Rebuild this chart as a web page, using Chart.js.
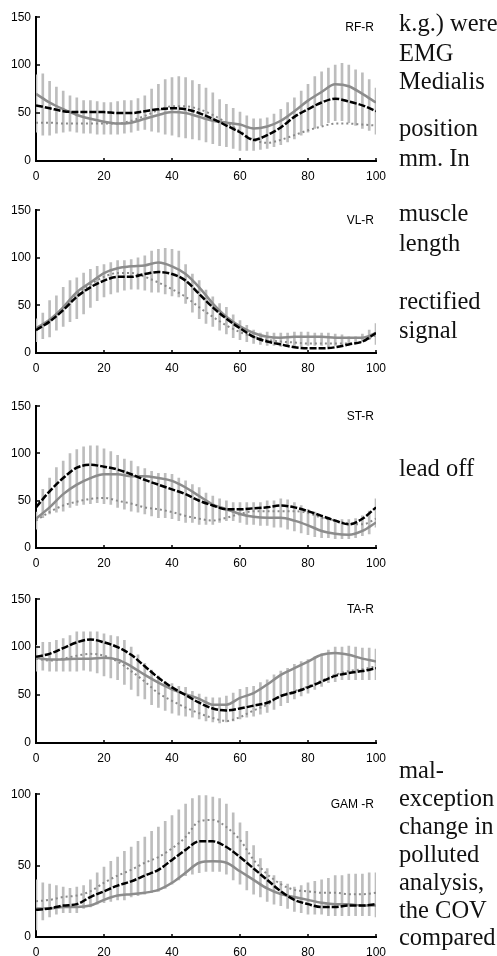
<!DOCTYPE html>
<html>
<head>
<meta charset="utf-8">
<script src="https://cdn.jsdelivr.net/npm/chart.js@4"></script>
<style>
  body { margin: 0; background: #fff; width: 497px; height: 956px; position: relative; overflow: hidden; }
  canvas { position: absolute; left: 0; }
  .txt { position: absolute; left: 399px; font-family: "Liberation Serif", "Times New Roman", serif; font-size: 24.5px; line-height: 28px; color: #111; white-space: nowrap; }
</style>
</head>
<body>
<canvas id="rf" width="400" height="181" style="top:5px"></canvas>
<canvas id="vl" width="400" height="180" style="top:198px"></canvas>
<canvas id="st" width="400" height="179" style="top:394px"></canvas>
<canvas id="ta" width="400" height="181" style="top:587px"></canvas>
<canvas id="gam" width="400" height="180" style="top:782px"></canvas>

<script>
// x positions (% of cycle)
const lineX = [0,4,8,12,16,20,24,28,32,36,40,44,48,52,56,60,64,68,72,76,80,84,88,92,96,100];
const errX = [0,2,4,6,8,10,12,14,16,18,20,22,24,26,28,30,32,34,36,38,40,42,44,46,48,50,
              52,54,56,58,60,62,64,66,68,70,72,74,76,78,80,82,84,86,88,90,92,94,96,98,100];

// RF-R
const rfBlack = [58,55,52,51,51,51,50,50,52,54,55,54,50,44,37,30,22,27,35,46,54,61,65,62,58,52];
const rfGray  = [70,61,54,48,44,41,39,40,44,48,51,50,46,42,40,38,34,36,42,52,63,72,80,78,70,61];
const rfDot   = [40,40,39,39,39,39,39,42,47,53,57,57,54,48,40,31,22,19,22,27,32,36,39,39,38,37];
const rfLo = [30,27,27,29,30,31,30,29,29,28,28,28,28,29,30,32,33,31,30,28,27,25,24,23,22,20,
              18,16,15,13,11,11,11,12,13,15,17,20,23,27,30,34,37,40,42,42,40,37,34,32,28];
const rfHi = [90,91,83,77,73,68,66,63,63,62,61,61,62,63,63,65,68,75,80,85,87,88,87,84,80,76,
              71,64,59,55,51,47,44,44,45,49,54,61,66,73,80,88,93,97,100,102,100,95,92,85,76];

// VL-R
const vlBlack = [24,33,45,59,69,76,80,80,83,85,83,76,62,48,36,26,17,12,9,6,5,5,6,9,12,21];
const vlGray  = [26,35,48,64,74,84,89,91,92,95,91,83,69,52,38,28,21,17,16,17,17,17,16,16,16,21];
const vlDot   = [25,34,48,62,72,80,84,84,80,74,67,59,48,38,29,22,17,14,12,11,10,10,10,10,12,19];
const vlLo = [12,15,17,24,28,33,36,41,48,55,59,62,64,66,67,67,66,64,64,62,60,59,52,43,36,31,
              28,24,20,16,14,12,10,9,8,8,7,7,7,7,8,8,8,7,8,9,9,10,12,14,9];
const vlHi = [36,42,55,60,69,76,79,84,88,91,93,95,97,97,98,100,102,107,109,110,109,107,93,83,76,66,
              59,52,48,40,34,29,24,21,22,21,21,21,22,22,22,21,21,21,20,19,17,17,20,24,31];

// ST-R
const stBlack = [43,60,74,85,88,86,83,78,72,67,62,57,50,45,41,41,42,43,45,43,39,34,29,25,31,43];
const stGray  = [31,43,57,67,74,78,78,76,76,74,71,64,55,46,41,36,33,32,32,29,24,18,15,14,18,27];
const stDot   = [29,38,45,49,52,53,50,47,43,41,38,34,31,29,32,36,39,39,39,39,37,32,29,26,25,31];
const stLo = [20,32,36,38,39,43,45,46,47,48,47,46,43,41,39,38,36,34,32,32,31,29,27,27,25,25,
              25,27,29,29,27,25,25,24,24,22,22,20,18,16,14,12,11,11,10,10,10,11,13,15,22];
const stHi = [38,62,74,85,92,100,104,107,108,108,105,102,98,94,92,86,84,81,79,79,78,74,71,67,64,58,
              55,52,50,48,48,48,48,48,50,50,52,51,48,45,41,38,34,32,30,30,30,31,34,39,52];

// TA-R
const taBlack = [90,93,99,105,108,105,100,92,80,68,58,50,42,36,34,36,39,42,49,53,58,64,70,73,75,78];
const taGray  = [89,87,87,88,88,89,87,80,71,63,56,51,46,40,40,47,52,61,71,78,85,92,94,92,88,85];
const taDot   = [88,86,88,91,93,91,85,75,64,52,44,37,31,26,23,27,34,40,49,54,59,65,71,75,77,80];
const taLo = [75,76,75,75,75,75,75,76,75,73,70,68,66,61,56,49,46,40,37,34,31,29,28,27,25,23,
              22,21,22,23,25,27,28,30,32,35,39,42,46,49,52,56,59,63,64,66,66,66,66,66,66];
const taHi = [102,105,105,107,109,112,116,116,116,116,114,112,111,107,100,92,83,76,70,64,62,59,58,54,51,48,
              47,47,49,52,56,58,59,63,66,71,75,78,82,85,87,90,93,97,100,100,101,100,99,99,98];

// GAM-R
const gamBlack = [19,20,22,23,28,32,36,39,43,47,54,61,67,67,63,56,48,40,32,26,23,21,21,22,22,23];
const gamGray  = [20,20,21,21,22,26,29,30,31,33,38,45,52,53,52,46,40,34,30,28,26,24,23,23,22,22];
const gamDot   = [25,26,28,29,32,38,43,47,52,56,62,70,81,82,77,68,54,44,37,33,32,31,31,30,30,31];
const gamLo = [5,12,14,16,17,17,17,20,21,23,24,25,26,26,28,29,30,31,32,34,37,40,43,44,45,46,
               46,46,44,40,37,33,30,28,25,23,22,20,18,17,16,16,16,15,15,15,15,15,15,15,14];
const gamHi = [40,38,37,36,35,34,35,36,40,45,49,53,56,60,63,67,70,74,77,81,85,89,93,97,99,99,
               98,97,93,87,80,74,64,55,48,43,39,37,35,36,38,39,40,41,43,43,44,44,44,45,45];

const sideText = [
  ['k.g.) were', 9], ['EMG', 39], ['Medialis', 67],
  ['position', 114], ['mm. In', 144],
  ['muscle', 199], ['length', 229],
  ['rectified', 287], ['signal', 316],
  ['lead off', 454],
  ['mal-', 756], ['exception', 784], ['change in', 812], ['polluted', 840],
  ['analysis,', 868], ['the COV', 896], ['compared', 923]
];

sideText.forEach(([t, top]) => {
  const d = document.createElement('div');
  d.className = 'txt';
  d.style.top = top + 'px';
  d.textContent = t;
  document.body.appendChild(d);
});

// ticks pointing into the plot + muscle name in the corner
const innerTicks = {
  id: 'innerTicks',
  afterDraw(chart, args, opts) {
    const ctx = chart.ctx;
    const area = chart.chartArea;
    const xs = chart.scales.x, ys = chart.scales.y;
    ctx.save();
    ctx.strokeStyle = '#000';
    ctx.lineWidth = 1.5;
    ctx.beginPath();
    xs.ticks.forEach(t => {
      const px = Math.round(xs.getPixelForValue(t.value));
      ctx.moveTo(px, area.bottom);
      ctx.lineTo(px, area.bottom - 3);
    });
    ys.ticks.forEach(t => {
      const py = Math.round(ys.getPixelForValue(t.value));
      ctx.moveTo(area.left, py);
      ctx.lineTo(area.left + 4, py);
    });
    ctx.stroke();
    ctx.fillStyle = '#000';
    ctx.font = '12px "Liberation Sans", Arial, sans-serif';
    ctx.textAlign = 'right';
    ctx.textBaseline = 'middle';
    ctx.fillText(opts.text, area.right - 2, area.top + 10);
    ctx.restore();
  }
};

const toPts = (xs, ys) => xs.map((x, i) => ({ x: x, y: ys[i] }));

function makePanel(id, name, yMax, black, gray, dot, lo, hi) {
  const ctx = document.getElementById(id).getContext('2d');
  const tickFont = { family: '"Liberation Sans", Arial, sans-serif', size: 12 };
  return new Chart(ctx, {
    type: 'line',
    data: {
      datasets: [
        {
          type: 'bar',
          data: errX.map((x, i) => ({ x: x, y: [lo[i], hi[i]] })),
          backgroundColor: '#bdbdbd',
          borderWidth: 0,
          barThickness: 2,
          order: 10
        },
        {
          data: toPts(lineX, dot),
          borderColor: '#8a8a8a',
          borderWidth: 2,
          borderDash: [2, 3],
          pointRadius: 0,
          cubicInterpolationMode: 'monotone',
          order: 3
        },
        {
          data: toPts(lineX, gray),
          borderColor: '#8c8c8c',
          borderWidth: 2.5,
          pointRadius: 0,
          cubicInterpolationMode: 'monotone',
          order: 2
        },
        {
          data: toPts(lineX, black),
          borderColor: '#000',
          borderWidth: 2.5,
          borderDash: [7, 2],
          pointRadius: 0,
          cubicInterpolationMode: 'monotone',
          order: 1
        }
      ]
    },
    options: {
      responsive: false,
      animation: false,
      layout: { padding: { top: 10, right: 24, left: 0, bottom: 0 } },
      plugins: {
        legend: { display: false },
        tooltip: { enabled: false },
        innerTicks: { text: name }
      },
      scales: {
        x: {
          type: 'linear',
          min: 0, max: 100,
          offset: false,
          grid: { display: false, drawTicks: false },
          border: { display: true, color: '#000', width: 2 },
          ticks: { stepSize: 20, color: '#000', font: tickFont, padding: 8, maxRotation: 0 },
          afterFit: s => { s.height = 25; }
        },
        y: {
          min: 0, max: yMax,
          grid: { display: false, drawTicks: false },
          border: { display: true, color: '#000', width: 2 },
          ticks: { stepSize: 50, color: '#000', font: tickFont, padding: 5 },
          afterFit: s => { s.width = 36; }
        }
      }
    },
    plugins: [innerTicks]
  });
}

makePanel('rf', 'RF-R', 150, rfBlack, rfGray, rfDot, rfLo, rfHi);
makePanel('vl', 'VL-R', 150, vlBlack, vlGray, vlDot, vlLo, vlHi);
makePanel('st', 'ST-R', 150, stBlack, stGray, stDot, stLo, stHi);
makePanel('ta', 'TA-R', 150, taBlack, taGray, taDot, taLo, taHi);
makePanel('gam', 'GAM -R', 100, gamBlack, gamGray, gamDot, gamLo, gamHi);
</script>
</body>
</html>
